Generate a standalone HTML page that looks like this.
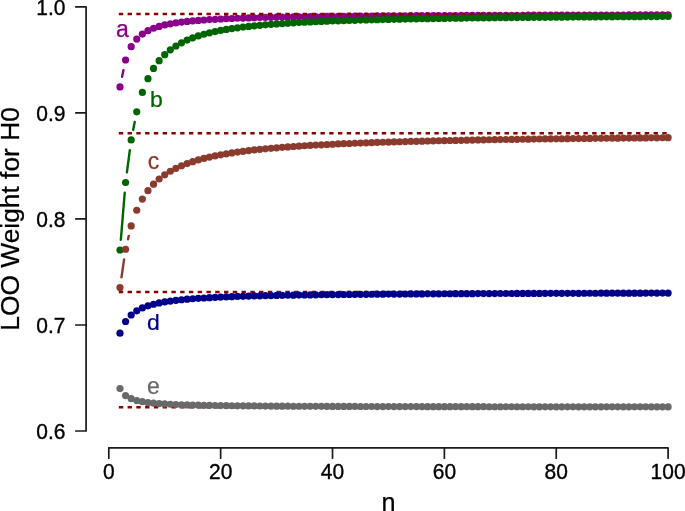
<!DOCTYPE html>
<html><head><meta charset="utf-8"><title>LOO Weight for H0</title>
<style>
html,body{margin:0;padding:0;background:#fff;}
body{width:685px;height:511px;overflow:hidden;}
svg{display:block;}
text{font-family:"Liberation Sans",sans-serif;}
</style></head><body>
<svg width="685" height="511" viewBox="0 0 685 511">
<rect width="685" height="511" fill="#fff"/>

<g stroke="#1a1a1a" stroke-width="1.7" fill="none" stroke-linecap="round" stroke-linejoin="round">
<path d="M75.80 6.90H86.10V431.00H75.80"/>
<path d="M75.80 112.92H86.10"/>
<path d="M75.80 218.95H86.10"/>
<path d="M75.80 324.98H86.10"/>
<path d="M108.80 458.20V447.90H668.10V458.20"/>
<path d="M220.66 447.90V458.20"/>
<path d="M332.52 447.90V458.20"/>
<path d="M444.38 447.90V458.20"/>
<path d="M556.24 447.90V458.20"/>
</g>
<g font-size="21px" fill="#000" stroke="#000" stroke-width="0.35">
<text transform="translate(65.4 14.85) scale(1 1.045)" text-anchor="end">1.0</text>
<text transform="translate(65.4 120.87) scale(1 1.045)" text-anchor="end">0.9</text>
<text transform="translate(65.4 226.90) scale(1 1.045)" text-anchor="end">0.8</text>
<text transform="translate(65.4 332.93) scale(1 1.045)" text-anchor="end">0.7</text>
<text transform="translate(65.4 438.95) scale(1 1.045)" text-anchor="end">0.6</text>
<text transform="translate(108.80 479.4) scale(1 1.045)" text-anchor="middle">0</text>
<text transform="translate(220.66 479.4) scale(1 1.045)" text-anchor="middle">20</text>
<text transform="translate(332.52 479.4) scale(1 1.045)" text-anchor="middle">40</text>
<text transform="translate(444.38 479.4) scale(1 1.045)" text-anchor="middle">60</text>
<text transform="translate(556.24 479.4) scale(1 1.045)" text-anchor="middle">80</text>
<text transform="translate(668.10 479.4) scale(1 1.045)" text-anchor="middle">100</text>
</g>
<g fill="#000" stroke="#000" stroke-width="0.25">
<text transform="translate(18.9 330.7) rotate(-90)" text-anchor="start" font-size="26.35px">LOO Weight for H0</text>
<text x="388.4" y="510.8" text-anchor="middle" font-size="25.2px">n</text>
</g>
<g fill="#8B008B" stroke="none">
<path d="M122.08 76.83L123.48 70.10" stroke="#8B008B" stroke-width="2.4" stroke-linecap="round" fill="none"/>
<circle cx="119.99" cy="86.92" r="3.6"/>
<circle cx="125.58" cy="60.01" r="3.6"/>
<circle cx="131.17" cy="46.72" r="3.6"/>
<circle cx="136.76" cy="39.03" r="3.6"/>
<circle cx="142.36" cy="34.11" r="3.6"/>
<circle cx="147.95" cy="30.72" r="3.6"/>
<circle cx="153.54" cy="28.27" r="3.6"/>
<circle cx="159.14" cy="26.42" r="3.6"/>
<circle cx="164.73" cy="24.97" r="3.6"/>
<circle cx="170.32" cy="23.82" r="3.6"/>
<circle cx="175.92" cy="22.88" r="3.6"/>
<circle cx="181.51" cy="22.10" r="3.6"/>
<circle cx="187.10" cy="21.44" r="3.6"/>
<circle cx="192.69" cy="20.88" r="3.6"/>
<circle cx="198.29" cy="20.40" r="3.6"/>
<circle cx="203.88" cy="19.98" r="3.6"/>
<circle cx="209.47" cy="19.61" r="3.6"/>
<circle cx="215.07" cy="19.28" r="3.6"/>
<circle cx="220.66" cy="18.98" r="3.6"/>
<circle cx="226.25" cy="18.72" r="3.6"/>
<circle cx="231.85" cy="18.49" r="3.6"/>
<circle cx="237.44" cy="18.27" r="3.6"/>
<circle cx="243.03" cy="18.08" r="3.6"/>
<circle cx="248.62" cy="17.90" r="3.6"/>
<circle cx="254.22" cy="17.74" r="3.6"/>
<circle cx="259.81" cy="17.59" r="3.6"/>
<circle cx="265.40" cy="17.45" r="3.6"/>
<circle cx="271.00" cy="17.32" r="3.6"/>
<circle cx="276.59" cy="17.20" r="3.6"/>
<circle cx="282.18" cy="17.09" r="3.6"/>
<circle cx="287.78" cy="16.98" r="3.6"/>
<circle cx="293.37" cy="16.89" r="3.6"/>
<circle cx="298.96" cy="16.80" r="3.6"/>
<circle cx="304.56" cy="16.71" r="3.6"/>
<circle cx="310.15" cy="16.63" r="3.6"/>
<circle cx="315.74" cy="16.55" r="3.6"/>
<circle cx="321.33" cy="16.48" r="3.6"/>
<circle cx="326.93" cy="16.41" r="3.6"/>
<circle cx="332.52" cy="16.35" r="3.6"/>
<circle cx="338.11" cy="16.29" r="3.6"/>
<circle cx="343.71" cy="16.23" r="3.6"/>
<circle cx="349.30" cy="16.18" r="3.6"/>
<circle cx="354.89" cy="16.12" r="3.6"/>
<circle cx="360.49" cy="16.07" r="3.6"/>
<circle cx="366.08" cy="16.03" r="3.6"/>
<circle cx="371.67" cy="15.98" r="3.6"/>
<circle cx="377.26" cy="15.94" r="3.6"/>
<circle cx="382.86" cy="15.90" r="3.6"/>
<circle cx="388.45" cy="15.86" r="3.6"/>
<circle cx="394.04" cy="15.82" r="3.6"/>
<circle cx="399.64" cy="15.78" r="3.6"/>
<circle cx="405.23" cy="15.75" r="3.6"/>
<circle cx="410.82" cy="15.71" r="3.6"/>
<circle cx="416.42" cy="15.68" r="3.6"/>
<circle cx="422.01" cy="15.65" r="3.6"/>
<circle cx="427.60" cy="15.62" r="3.6"/>
<circle cx="433.19" cy="15.59" r="3.6"/>
<circle cx="438.79" cy="15.56" r="3.6"/>
<circle cx="444.38" cy="15.53" r="3.6"/>
<circle cx="449.97" cy="15.51" r="3.6"/>
<circle cx="455.57" cy="15.48" r="3.6"/>
<circle cx="461.16" cy="15.46" r="3.6"/>
<circle cx="466.75" cy="15.43" r="3.6"/>
<circle cx="472.35" cy="15.41" r="3.6"/>
<circle cx="477.94" cy="15.39" r="3.6"/>
<circle cx="483.53" cy="15.37" r="3.6"/>
<circle cx="489.12" cy="15.34" r="3.6"/>
<circle cx="494.72" cy="15.32" r="3.6"/>
<circle cx="500.31" cy="15.30" r="3.6"/>
<circle cx="505.90" cy="15.29" r="3.6"/>
<circle cx="511.50" cy="15.27" r="3.6"/>
<circle cx="517.09" cy="15.25" r="3.6"/>
<circle cx="522.68" cy="15.23" r="3.6"/>
<circle cx="528.27" cy="15.21" r="3.6"/>
<circle cx="533.87" cy="15.20" r="3.6"/>
<circle cx="539.46" cy="15.18" r="3.6"/>
<circle cx="545.05" cy="15.17" r="3.6"/>
<circle cx="550.65" cy="15.15" r="3.6"/>
<circle cx="556.24" cy="15.14" r="3.6"/>
<circle cx="561.83" cy="15.12" r="3.6"/>
<circle cx="567.43" cy="15.11" r="3.6"/>
<circle cx="573.02" cy="15.09" r="3.6"/>
<circle cx="578.61" cy="15.08" r="3.6"/>
<circle cx="584.20" cy="15.07" r="3.6"/>
<circle cx="589.80" cy="15.05" r="3.6"/>
<circle cx="595.39" cy="15.04" r="3.6"/>
<circle cx="600.98" cy="15.03" r="3.6"/>
<circle cx="606.58" cy="15.02" r="3.6"/>
<circle cx="612.17" cy="15.01" r="3.6"/>
<circle cx="617.76" cy="14.99" r="3.6"/>
<circle cx="623.36" cy="14.98" r="3.6"/>
<circle cx="628.95" cy="14.97" r="3.6"/>
<circle cx="634.54" cy="14.96" r="3.6"/>
<circle cx="640.13" cy="14.95" r="3.6"/>
<circle cx="645.73" cy="14.94" r="3.6"/>
<circle cx="651.32" cy="14.93" r="3.6"/>
<circle cx="656.91" cy="14.92" r="3.6"/>
<circle cx="662.51" cy="14.91" r="3.6"/>
<circle cx="668.10" cy="14.90" r="3.6"/>
<text x="122.4" y="36.5" font-size="23px" text-anchor="middle" stroke="#8B008B" stroke-width="0.25">a</text>
</g>
<g stroke="#8B0000" stroke-width="2.6" stroke-linecap="butt" stroke-dasharray="4.4 4.366" fill="none">
<path d="M118.8 14.00H668.10"/>
<path d="M118.8 133.28H668.10"/>
<path d="M118.8 292.05H668.10"/>
<path d="M118.8 407.19H668.10"/>
</g>
<g fill="#006400" stroke="none">
<path d="M120.84 239.75L124.73 192.76M126.92 172.29L129.83 150.09M133.18 129.78L134.75 121.89" stroke="#006400" stroke-width="2.4" stroke-linecap="round" fill="none"/>
<circle cx="119.99" cy="250.01" r="3.6"/>
<circle cx="125.58" cy="182.50" r="3.6"/>
<circle cx="131.17" cy="139.88" r="3.6"/>
<circle cx="136.76" cy="111.79" r="3.6"/>
<circle cx="142.36" cy="92.47" r="3.6"/>
<circle cx="147.95" cy="78.66" r="3.6"/>
<circle cx="153.54" cy="68.46" r="3.6"/>
<circle cx="159.14" cy="60.71" r="3.6"/>
<circle cx="164.73" cy="54.67" r="3.6"/>
<circle cx="170.32" cy="49.87" r="3.6"/>
<circle cx="175.92" cy="45.98" r="3.6"/>
<circle cx="181.51" cy="42.78" r="3.6"/>
<circle cx="187.10" cy="40.11" r="3.6"/>
<circle cx="192.69" cy="37.85" r="3.6"/>
<circle cx="198.29" cy="35.93" r="3.6"/>
<circle cx="203.88" cy="34.27" r="3.6"/>
<circle cx="209.47" cy="32.82" r="3.6"/>
<circle cx="215.07" cy="31.56" r="3.6"/>
<circle cx="220.66" cy="30.45" r="3.6"/>
<circle cx="226.25" cy="29.46" r="3.6"/>
<circle cx="231.85" cy="28.57" r="3.6"/>
<circle cx="237.44" cy="27.78" r="3.6"/>
<circle cx="243.03" cy="27.06" r="3.6"/>
<circle cx="248.62" cy="26.41" r="3.6"/>
<circle cx="254.22" cy="25.82" r="3.6"/>
<circle cx="259.81" cy="25.28" r="3.6"/>
<circle cx="265.40" cy="24.79" r="3.6"/>
<circle cx="271.00" cy="24.33" r="3.6"/>
<circle cx="276.59" cy="23.91" r="3.6"/>
<circle cx="282.18" cy="23.53" r="3.6"/>
<circle cx="287.78" cy="23.17" r="3.6"/>
<circle cx="293.37" cy="22.83" r="3.6"/>
<circle cx="298.96" cy="22.52" r="3.6"/>
<circle cx="304.56" cy="22.23" r="3.6"/>
<circle cx="310.15" cy="21.96" r="3.6"/>
<circle cx="315.74" cy="21.70" r="3.6"/>
<circle cx="321.33" cy="21.46" r="3.6"/>
<circle cx="326.93" cy="21.23" r="3.6"/>
<circle cx="332.52" cy="21.02" r="3.6"/>
<circle cx="338.11" cy="20.82" r="3.6"/>
<circle cx="343.71" cy="20.63" r="3.6"/>
<circle cx="349.30" cy="20.45" r="3.6"/>
<circle cx="354.89" cy="20.28" r="3.6"/>
<circle cx="360.49" cy="20.11" r="3.6"/>
<circle cx="366.08" cy="19.96" r="3.6"/>
<circle cx="371.67" cy="19.81" r="3.6"/>
<circle cx="377.26" cy="19.67" r="3.6"/>
<circle cx="382.86" cy="19.54" r="3.6"/>
<circle cx="388.45" cy="19.41" r="3.6"/>
<circle cx="394.04" cy="19.29" r="3.6"/>
<circle cx="399.64" cy="19.17" r="3.6"/>
<circle cx="405.23" cy="19.06" r="3.6"/>
<circle cx="410.82" cy="18.95" r="3.6"/>
<circle cx="416.42" cy="18.85" r="3.6"/>
<circle cx="422.01" cy="18.75" r="3.6"/>
<circle cx="427.60" cy="18.66" r="3.6"/>
<circle cx="433.19" cy="18.57" r="3.6"/>
<circle cx="438.79" cy="18.48" r="3.6"/>
<circle cx="444.38" cy="18.40" r="3.6"/>
<circle cx="449.97" cy="18.31" r="3.6"/>
<circle cx="455.57" cy="18.24" r="3.6"/>
<circle cx="461.16" cy="18.16" r="3.6"/>
<circle cx="466.75" cy="18.09" r="3.6"/>
<circle cx="472.35" cy="18.02" r="3.6"/>
<circle cx="477.94" cy="17.95" r="3.6"/>
<circle cx="483.53" cy="17.88" r="3.6"/>
<circle cx="489.12" cy="17.82" r="3.6"/>
<circle cx="494.72" cy="17.76" r="3.6"/>
<circle cx="500.31" cy="17.70" r="3.6"/>
<circle cx="505.90" cy="17.64" r="3.6"/>
<circle cx="511.50" cy="17.58" r="3.6"/>
<circle cx="517.09" cy="17.53" r="3.6"/>
<circle cx="522.68" cy="17.47" r="3.6"/>
<circle cx="528.27" cy="17.42" r="3.6"/>
<circle cx="533.87" cy="17.37" r="3.6"/>
<circle cx="539.46" cy="17.33" r="3.6"/>
<circle cx="545.05" cy="17.28" r="3.6"/>
<circle cx="550.65" cy="17.23" r="3.6"/>
<circle cx="556.24" cy="17.19" r="3.6"/>
<circle cx="561.83" cy="17.14" r="3.6"/>
<circle cx="567.43" cy="17.10" r="3.6"/>
<circle cx="573.02" cy="17.06" r="3.6"/>
<circle cx="578.61" cy="17.02" r="3.6"/>
<circle cx="584.20" cy="16.98" r="3.6"/>
<circle cx="589.80" cy="16.94" r="3.6"/>
<circle cx="595.39" cy="16.91" r="3.6"/>
<circle cx="600.98" cy="16.87" r="3.6"/>
<circle cx="606.58" cy="16.84" r="3.6"/>
<circle cx="612.17" cy="16.80" r="3.6"/>
<circle cx="617.76" cy="16.77" r="3.6"/>
<circle cx="623.36" cy="16.73" r="3.6"/>
<circle cx="628.95" cy="16.70" r="3.6"/>
<circle cx="634.54" cy="16.67" r="3.6"/>
<circle cx="640.13" cy="16.64" r="3.6"/>
<circle cx="645.73" cy="16.61" r="3.6"/>
<circle cx="651.32" cy="16.58" r="3.6"/>
<circle cx="656.91" cy="16.55" r="3.6"/>
<circle cx="662.51" cy="16.52" r="3.6"/>
<circle cx="668.10" cy="16.50" r="3.6"/>
<text transform="translate(156.3 107.4) scale(1 0.97)" font-size="23px" text-anchor="middle" stroke="#006400" stroke-width="0.25">b</text>
</g>
<g fill="#8B3A2E" stroke="none">
<path d="M121.47 277.36L124.09 259.43M127.98 239.23L128.77 235.90" stroke="#8B3A2E" stroke-width="2.4" stroke-linecap="round" fill="none"/>
<circle cx="119.99" cy="287.55" r="3.6"/>
<circle cx="125.58" cy="249.24" r="3.6"/>
<circle cx="131.17" cy="225.89" r="3.6"/>
<circle cx="136.76" cy="210.25" r="3.6"/>
<circle cx="142.36" cy="199.07" r="3.6"/>
<circle cx="147.95" cy="190.70" r="3.6"/>
<circle cx="153.54" cy="184.21" r="3.6"/>
<circle cx="159.14" cy="179.02" r="3.6"/>
<circle cx="164.73" cy="174.79" r="3.6"/>
<circle cx="170.32" cy="171.27" r="3.6"/>
<circle cx="175.92" cy="168.30" r="3.6"/>
<circle cx="181.51" cy="165.76" r="3.6"/>
<circle cx="187.10" cy="163.56" r="3.6"/>
<circle cx="192.69" cy="161.64" r="3.6"/>
<circle cx="198.29" cy="159.95" r="3.6"/>
<circle cx="203.88" cy="158.45" r="3.6"/>
<circle cx="209.47" cy="157.10" r="3.6"/>
<circle cx="215.07" cy="155.90" r="3.6"/>
<circle cx="220.66" cy="154.81" r="3.6"/>
<circle cx="226.25" cy="153.82" r="3.6"/>
<circle cx="231.85" cy="152.91" r="3.6"/>
<circle cx="237.44" cy="152.09" r="3.6"/>
<circle cx="243.03" cy="151.32" r="3.6"/>
<circle cx="248.62" cy="150.62" r="3.6"/>
<circle cx="254.22" cy="149.97" r="3.6"/>
<circle cx="259.81" cy="149.37" r="3.6"/>
<circle cx="265.40" cy="148.81" r="3.6"/>
<circle cx="271.00" cy="148.29" r="3.6"/>
<circle cx="276.59" cy="147.80" r="3.6"/>
<circle cx="282.18" cy="147.34" r="3.6"/>
<circle cx="287.78" cy="146.91" r="3.6"/>
<circle cx="293.37" cy="146.51" r="3.6"/>
<circle cx="298.96" cy="146.13" r="3.6"/>
<circle cx="304.56" cy="145.77" r="3.6"/>
<circle cx="310.15" cy="145.43" r="3.6"/>
<circle cx="315.74" cy="145.11" r="3.6"/>
<circle cx="321.33" cy="144.80" r="3.6"/>
<circle cx="326.93" cy="144.51" r="3.6"/>
<circle cx="332.52" cy="144.23" r="3.6"/>
<circle cx="338.11" cy="143.97" r="3.6"/>
<circle cx="343.71" cy="143.72" r="3.6"/>
<circle cx="349.30" cy="143.48" r="3.6"/>
<circle cx="354.89" cy="143.25" r="3.6"/>
<circle cx="360.49" cy="143.04" r="3.6"/>
<circle cx="366.08" cy="142.83" r="3.6"/>
<circle cx="371.67" cy="142.63" r="3.6"/>
<circle cx="377.26" cy="142.43" r="3.6"/>
<circle cx="382.86" cy="142.25" r="3.6"/>
<circle cx="388.45" cy="142.07" r="3.6"/>
<circle cx="394.04" cy="141.90" r="3.6"/>
<circle cx="399.64" cy="141.74" r="3.6"/>
<circle cx="405.23" cy="141.58" r="3.6"/>
<circle cx="410.82" cy="141.43" r="3.6"/>
<circle cx="416.42" cy="141.28" r="3.6"/>
<circle cx="422.01" cy="141.14" r="3.6"/>
<circle cx="427.60" cy="141.01" r="3.6"/>
<circle cx="433.19" cy="140.88" r="3.6"/>
<circle cx="438.79" cy="140.75" r="3.6"/>
<circle cx="444.38" cy="140.63" r="3.6"/>
<circle cx="449.97" cy="140.51" r="3.6"/>
<circle cx="455.57" cy="140.39" r="3.6"/>
<circle cx="461.16" cy="140.28" r="3.6"/>
<circle cx="466.75" cy="140.17" r="3.6"/>
<circle cx="472.35" cy="140.07" r="3.6"/>
<circle cx="477.94" cy="139.96" r="3.6"/>
<circle cx="483.53" cy="139.87" r="3.6"/>
<circle cx="489.12" cy="139.77" r="3.6"/>
<circle cx="494.72" cy="139.68" r="3.6"/>
<circle cx="500.31" cy="139.59" r="3.6"/>
<circle cx="505.90" cy="139.50" r="3.6"/>
<circle cx="511.50" cy="139.41" r="3.6"/>
<circle cx="517.09" cy="139.33" r="3.6"/>
<circle cx="522.68" cy="139.25" r="3.6"/>
<circle cx="528.27" cy="139.17" r="3.6"/>
<circle cx="533.87" cy="139.09" r="3.6"/>
<circle cx="539.46" cy="139.02" r="3.6"/>
<circle cx="545.05" cy="138.95" r="3.6"/>
<circle cx="550.65" cy="138.87" r="3.6"/>
<circle cx="556.24" cy="138.81" r="3.6"/>
<circle cx="561.83" cy="138.74" r="3.6"/>
<circle cx="567.43" cy="138.67" r="3.6"/>
<circle cx="573.02" cy="138.61" r="3.6"/>
<circle cx="578.61" cy="138.54" r="3.6"/>
<circle cx="584.20" cy="138.48" r="3.6"/>
<circle cx="589.80" cy="138.42" r="3.6"/>
<circle cx="595.39" cy="138.36" r="3.6"/>
<circle cx="600.98" cy="138.31" r="3.6"/>
<circle cx="606.58" cy="138.25" r="3.6"/>
<circle cx="612.17" cy="138.20" r="3.6"/>
<circle cx="617.76" cy="138.14" r="3.6"/>
<circle cx="623.36" cy="138.09" r="3.6"/>
<circle cx="628.95" cy="138.04" r="3.6"/>
<circle cx="634.54" cy="137.99" r="3.6"/>
<circle cx="640.13" cy="137.94" r="3.6"/>
<circle cx="645.73" cy="137.89" r="3.6"/>
<circle cx="651.32" cy="137.84" r="3.6"/>
<circle cx="656.91" cy="137.80" r="3.6"/>
<circle cx="662.51" cy="137.75" r="3.6"/>
<circle cx="668.10" cy="137.71" r="3.6"/>
<text x="153.6" y="168.5" font-size="23px" text-anchor="middle" stroke="#8B3A2E" stroke-width="0.25">c</text>
</g>
<g fill="#00008B" stroke="none">
<circle cx="119.99" cy="333.13" r="3.6"/>
<circle cx="125.58" cy="321.48" r="3.6"/>
<circle cx="131.17" cy="314.99" r="3.6"/>
<circle cx="136.76" cy="310.84" r="3.6"/>
<circle cx="142.36" cy="307.97" r="3.6"/>
<circle cx="147.95" cy="305.86" r="3.6"/>
<circle cx="153.54" cy="304.24" r="3.6"/>
<circle cx="159.14" cy="302.96" r="3.6"/>
<circle cx="164.73" cy="301.93" r="3.6"/>
<circle cx="170.32" cy="301.07" r="3.6"/>
<circle cx="175.92" cy="300.35" r="3.6"/>
<circle cx="181.51" cy="299.74" r="3.6"/>
<circle cx="187.10" cy="299.21" r="3.6"/>
<circle cx="192.69" cy="298.75" r="3.6"/>
<circle cx="198.29" cy="298.34" r="3.6"/>
<circle cx="203.88" cy="297.98" r="3.6"/>
<circle cx="209.47" cy="297.66" r="3.6"/>
<circle cx="215.07" cy="297.38" r="3.6"/>
<circle cx="220.66" cy="297.12" r="3.6"/>
<circle cx="226.25" cy="296.88" r="3.6"/>
<circle cx="231.85" cy="296.67" r="3.6"/>
<circle cx="237.44" cy="296.47" r="3.6"/>
<circle cx="243.03" cy="296.29" r="3.6"/>
<circle cx="248.62" cy="296.12" r="3.6"/>
<circle cx="254.22" cy="295.97" r="3.6"/>
<circle cx="259.81" cy="295.83" r="3.6"/>
<circle cx="265.40" cy="295.70" r="3.6"/>
<circle cx="271.00" cy="295.57" r="3.6"/>
<circle cx="276.59" cy="295.46" r="3.6"/>
<circle cx="282.18" cy="295.35" r="3.6"/>
<circle cx="287.78" cy="295.25" r="3.6"/>
<circle cx="293.37" cy="295.15" r="3.6"/>
<circle cx="298.96" cy="295.06" r="3.6"/>
<circle cx="304.56" cy="294.98" r="3.6"/>
<circle cx="310.15" cy="294.90" r="3.6"/>
<circle cx="315.74" cy="294.82" r="3.6"/>
<circle cx="321.33" cy="294.75" r="3.6"/>
<circle cx="326.93" cy="294.68" r="3.6"/>
<circle cx="332.52" cy="294.62" r="3.6"/>
<circle cx="338.11" cy="294.55" r="3.6"/>
<circle cx="343.71" cy="294.49" r="3.6"/>
<circle cx="349.30" cy="294.44" r="3.6"/>
<circle cx="354.89" cy="294.38" r="3.6"/>
<circle cx="360.49" cy="294.33" r="3.6"/>
<circle cx="366.08" cy="294.28" r="3.6"/>
<circle cx="371.67" cy="294.24" r="3.6"/>
<circle cx="377.26" cy="294.19" r="3.6"/>
<circle cx="382.86" cy="294.15" r="3.6"/>
<circle cx="388.45" cy="294.11" r="3.6"/>
<circle cx="394.04" cy="294.07" r="3.6"/>
<circle cx="399.64" cy="294.03" r="3.6"/>
<circle cx="405.23" cy="293.99" r="3.6"/>
<circle cx="410.82" cy="293.96" r="3.6"/>
<circle cx="416.42" cy="293.92" r="3.6"/>
<circle cx="422.01" cy="293.89" r="3.6"/>
<circle cx="427.60" cy="293.86" r="3.6"/>
<circle cx="433.19" cy="293.83" r="3.6"/>
<circle cx="438.79" cy="293.80" r="3.6"/>
<circle cx="444.38" cy="293.77" r="3.6"/>
<circle cx="449.97" cy="293.74" r="3.6"/>
<circle cx="455.57" cy="293.71" r="3.6"/>
<circle cx="461.16" cy="293.69" r="3.6"/>
<circle cx="466.75" cy="293.66" r="3.6"/>
<circle cx="472.35" cy="293.64" r="3.6"/>
<circle cx="477.94" cy="293.61" r="3.6"/>
<circle cx="483.53" cy="293.59" r="3.6"/>
<circle cx="489.12" cy="293.57" r="3.6"/>
<circle cx="494.72" cy="293.54" r="3.6"/>
<circle cx="500.31" cy="293.52" r="3.6"/>
<circle cx="505.90" cy="293.50" r="3.6"/>
<circle cx="511.50" cy="293.48" r="3.6"/>
<circle cx="517.09" cy="293.46" r="3.6"/>
<circle cx="522.68" cy="293.44" r="3.6"/>
<circle cx="528.27" cy="293.42" r="3.6"/>
<circle cx="533.87" cy="293.41" r="3.6"/>
<circle cx="539.46" cy="293.39" r="3.6"/>
<circle cx="545.05" cy="293.37" r="3.6"/>
<circle cx="550.65" cy="293.36" r="3.6"/>
<circle cx="556.24" cy="293.34" r="3.6"/>
<circle cx="561.83" cy="293.32" r="3.6"/>
<circle cx="567.43" cy="293.31" r="3.6"/>
<circle cx="573.02" cy="293.29" r="3.6"/>
<circle cx="578.61" cy="293.28" r="3.6"/>
<circle cx="584.20" cy="293.26" r="3.6"/>
<circle cx="589.80" cy="293.25" r="3.6"/>
<circle cx="595.39" cy="293.24" r="3.6"/>
<circle cx="600.98" cy="293.22" r="3.6"/>
<circle cx="606.58" cy="293.21" r="3.6"/>
<circle cx="612.17" cy="293.20" r="3.6"/>
<circle cx="617.76" cy="293.18" r="3.6"/>
<circle cx="623.36" cy="293.17" r="3.6"/>
<circle cx="628.95" cy="293.16" r="3.6"/>
<circle cx="634.54" cy="293.15" r="3.6"/>
<circle cx="640.13" cy="293.14" r="3.6"/>
<circle cx="645.73" cy="293.12" r="3.6"/>
<circle cx="651.32" cy="293.11" r="3.6"/>
<circle cx="656.91" cy="293.10" r="3.6"/>
<circle cx="662.51" cy="293.09" r="3.6"/>
<circle cx="668.10" cy="293.08" r="3.6"/>
<text transform="translate(153.5 329.6) scale(1 0.97)" font-size="23px" text-anchor="middle" stroke="#00008B" stroke-width="0.25">d</text>
</g>
<g fill="#696969" stroke="none">
<circle cx="119.99" cy="388.59" r="3.6"/>
<circle cx="125.58" cy="395.55" r="3.6"/>
<circle cx="131.17" cy="398.72" r="3.6"/>
<circle cx="136.76" cy="400.53" r="3.6"/>
<circle cx="142.36" cy="401.70" r="3.6"/>
<circle cx="147.95" cy="402.53" r="3.6"/>
<circle cx="153.54" cy="403.13" r="3.6"/>
<circle cx="159.14" cy="403.60" r="3.6"/>
<circle cx="164.73" cy="403.97" r="3.6"/>
<circle cx="170.32" cy="404.27" r="3.6"/>
<circle cx="175.92" cy="404.52" r="3.6"/>
<circle cx="181.51" cy="404.73" r="3.6"/>
<circle cx="187.10" cy="404.91" r="3.6"/>
<circle cx="192.69" cy="405.07" r="3.6"/>
<circle cx="198.29" cy="405.20" r="3.6"/>
<circle cx="203.88" cy="405.32" r="3.6"/>
<circle cx="209.47" cy="405.43" r="3.6"/>
<circle cx="215.07" cy="405.52" r="3.6"/>
<circle cx="220.66" cy="405.61" r="3.6"/>
<circle cx="226.25" cy="405.68" r="3.6"/>
<circle cx="231.85" cy="405.75" r="3.6"/>
<circle cx="237.44" cy="405.81" r="3.6"/>
<circle cx="243.03" cy="405.87" r="3.6"/>
<circle cx="248.62" cy="405.93" r="3.6"/>
<circle cx="254.22" cy="405.97" r="3.6"/>
<circle cx="259.81" cy="406.02" r="3.6"/>
<circle cx="265.40" cy="406.06" r="3.6"/>
<circle cx="271.00" cy="406.10" r="3.6"/>
<circle cx="276.59" cy="406.14" r="3.6"/>
<circle cx="282.18" cy="406.17" r="3.6"/>
<circle cx="287.78" cy="406.20" r="3.6"/>
<circle cx="293.37" cy="406.23" r="3.6"/>
<circle cx="298.96" cy="406.26" r="3.6"/>
<circle cx="304.56" cy="406.29" r="3.6"/>
<circle cx="310.15" cy="406.31" r="3.6"/>
<circle cx="315.74" cy="406.34" r="3.6"/>
<circle cx="321.33" cy="406.36" r="3.6"/>
<circle cx="326.93" cy="406.38" r="3.6"/>
<circle cx="332.52" cy="406.40" r="3.6"/>
<circle cx="338.11" cy="406.42" r="3.6"/>
<circle cx="343.71" cy="406.44" r="3.6"/>
<circle cx="349.30" cy="406.46" r="3.6"/>
<circle cx="354.89" cy="406.47" r="3.6"/>
<circle cx="360.49" cy="406.49" r="3.6"/>
<circle cx="366.08" cy="406.51" r="3.6"/>
<circle cx="371.67" cy="406.52" r="3.6"/>
<circle cx="377.26" cy="406.53" r="3.6"/>
<circle cx="382.86" cy="406.55" r="3.6"/>
<circle cx="388.45" cy="406.56" r="3.6"/>
<circle cx="394.04" cy="406.57" r="3.6"/>
<circle cx="399.64" cy="406.58" r="3.6"/>
<circle cx="405.23" cy="406.60" r="3.6"/>
<circle cx="410.82" cy="406.61" r="3.6"/>
<circle cx="416.42" cy="406.62" r="3.6"/>
<circle cx="422.01" cy="406.63" r="3.6"/>
<circle cx="427.60" cy="406.64" r="3.6"/>
<circle cx="433.19" cy="406.65" r="3.6"/>
<circle cx="438.79" cy="406.66" r="3.6"/>
<circle cx="444.38" cy="406.67" r="3.6"/>
<circle cx="449.97" cy="406.67" r="3.6"/>
<circle cx="455.57" cy="406.68" r="3.6"/>
<circle cx="461.16" cy="406.69" r="3.6"/>
<circle cx="466.75" cy="406.70" r="3.6"/>
<circle cx="472.35" cy="406.71" r="3.6"/>
<circle cx="477.94" cy="406.71" r="3.6"/>
<circle cx="483.53" cy="406.72" r="3.6"/>
<circle cx="489.12" cy="406.73" r="3.6"/>
<circle cx="494.72" cy="406.73" r="3.6"/>
<circle cx="500.31" cy="406.74" r="3.6"/>
<circle cx="505.90" cy="406.75" r="3.6"/>
<circle cx="511.50" cy="406.75" r="3.6"/>
<circle cx="517.09" cy="406.76" r="3.6"/>
<circle cx="522.68" cy="406.76" r="3.6"/>
<circle cx="528.27" cy="406.77" r="3.6"/>
<circle cx="533.87" cy="406.78" r="3.6"/>
<circle cx="539.46" cy="406.78" r="3.6"/>
<circle cx="545.05" cy="406.79" r="3.6"/>
<circle cx="550.65" cy="406.79" r="3.6"/>
<circle cx="556.24" cy="406.80" r="3.6"/>
<circle cx="561.83" cy="406.80" r="3.6"/>
<circle cx="567.43" cy="406.81" r="3.6"/>
<circle cx="573.02" cy="406.81" r="3.6"/>
<circle cx="578.61" cy="406.82" r="3.6"/>
<circle cx="584.20" cy="406.82" r="3.6"/>
<circle cx="589.80" cy="406.82" r="3.6"/>
<circle cx="595.39" cy="406.83" r="3.6"/>
<circle cx="600.98" cy="406.83" r="3.6"/>
<circle cx="606.58" cy="406.84" r="3.6"/>
<circle cx="612.17" cy="406.84" r="3.6"/>
<circle cx="617.76" cy="406.84" r="3.6"/>
<circle cx="623.36" cy="406.85" r="3.6"/>
<circle cx="628.95" cy="406.85" r="3.6"/>
<circle cx="634.54" cy="406.86" r="3.6"/>
<circle cx="640.13" cy="406.86" r="3.6"/>
<circle cx="645.73" cy="406.86" r="3.6"/>
<circle cx="651.32" cy="406.87" r="3.6"/>
<circle cx="656.91" cy="406.87" r="3.6"/>
<circle cx="662.51" cy="406.87" r="3.6"/>
<circle cx="668.10" cy="406.88" r="3.6"/>
<text x="153.4" y="394.0" font-size="23px" text-anchor="middle" stroke="#696969" stroke-width="0.25">e</text>
</g>
</svg>
</body></html>
